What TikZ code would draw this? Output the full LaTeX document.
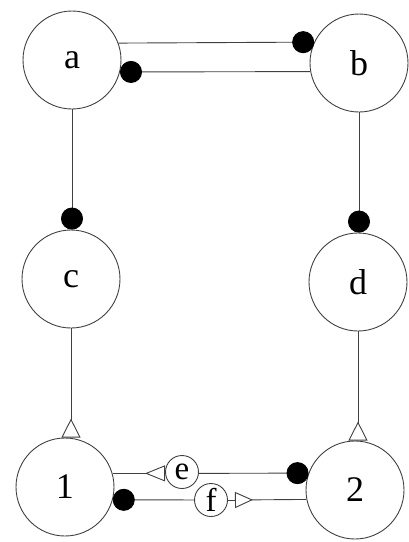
\documentclass[tikz,border=0pt]{standalone}
\usepackage{fontspec}
\setmainfont{Liberation Serif}
\usetikzlibrary{arrows.meta}
\begin{document}
\begin{tikzpicture}[x=1pt,y=-1pt,
  big/.style={circle,draw=black!75,line width=0.9pt,minimum size=98pt,inner sep=0pt,font=\fontsize{36}{40}\selectfont},
  small/.style={circle,draw=black!75,line width=0.9pt,minimum size=33pt,inner sep=0pt,font=\fontsize{33}{36}\selectfont},
  conn/.style={draw=black!75,line width=0.9pt},
  dot/.style={-{Circle[length=22pt,color=black]}},
  tri/.style={-{Triangle[reversed,fill=white,length=19pt,width=19pt]}},
]
\useasboundingbox (0,0) rectangle (409,542);
\node[big] (a) at (72,60) {a};
\node[big] (b) at (359,63) {b};
\node[big] (c) at (71,279) {c};
\node[big] (d) at (358,282) {d};
\node[big] (n1) at (65,487) {1};
\node[big] (n2) at (355,490) {2};
\node[small] (e) at (182,472) {e};
\node[small] (f) at (211,500) {f};
\coordinate (fbase) at (235,500);

\draw[conn,dot] (a.20.3) -- (b.155.9);
\draw[conn,dot] (b.190.6) -- (a.-14.2);
\draw[conn,dot] (a.south) -- (a.south |- c.north);
\draw[conn,dot] (b.south) -- (b.south |- d.north);
\draw[conn,tri] (c.south) -- (c.south |- n1.north);
\draw[conn,tri] (d.south) -- (d.south |- n2.north);

\draw[conn,-{Triangle[reversed,fill=white,length=20pt,width=16pt]}] (n1.16.3) -- (e.west |- n1.16.3);
\draw[conn,dot] (e.east |- n1.16.3) -- (n2.160.1);
\draw[conn,dot] (f) -- (n1.-15.1);
\draw[conn] (f) -- (fbase);
\draw[conn,{Triangle[reversed,fill=white,length=18pt,width=16pt]}-] (fbase) -- (n2.191.5);
\end{tikzpicture}
\end{document}
